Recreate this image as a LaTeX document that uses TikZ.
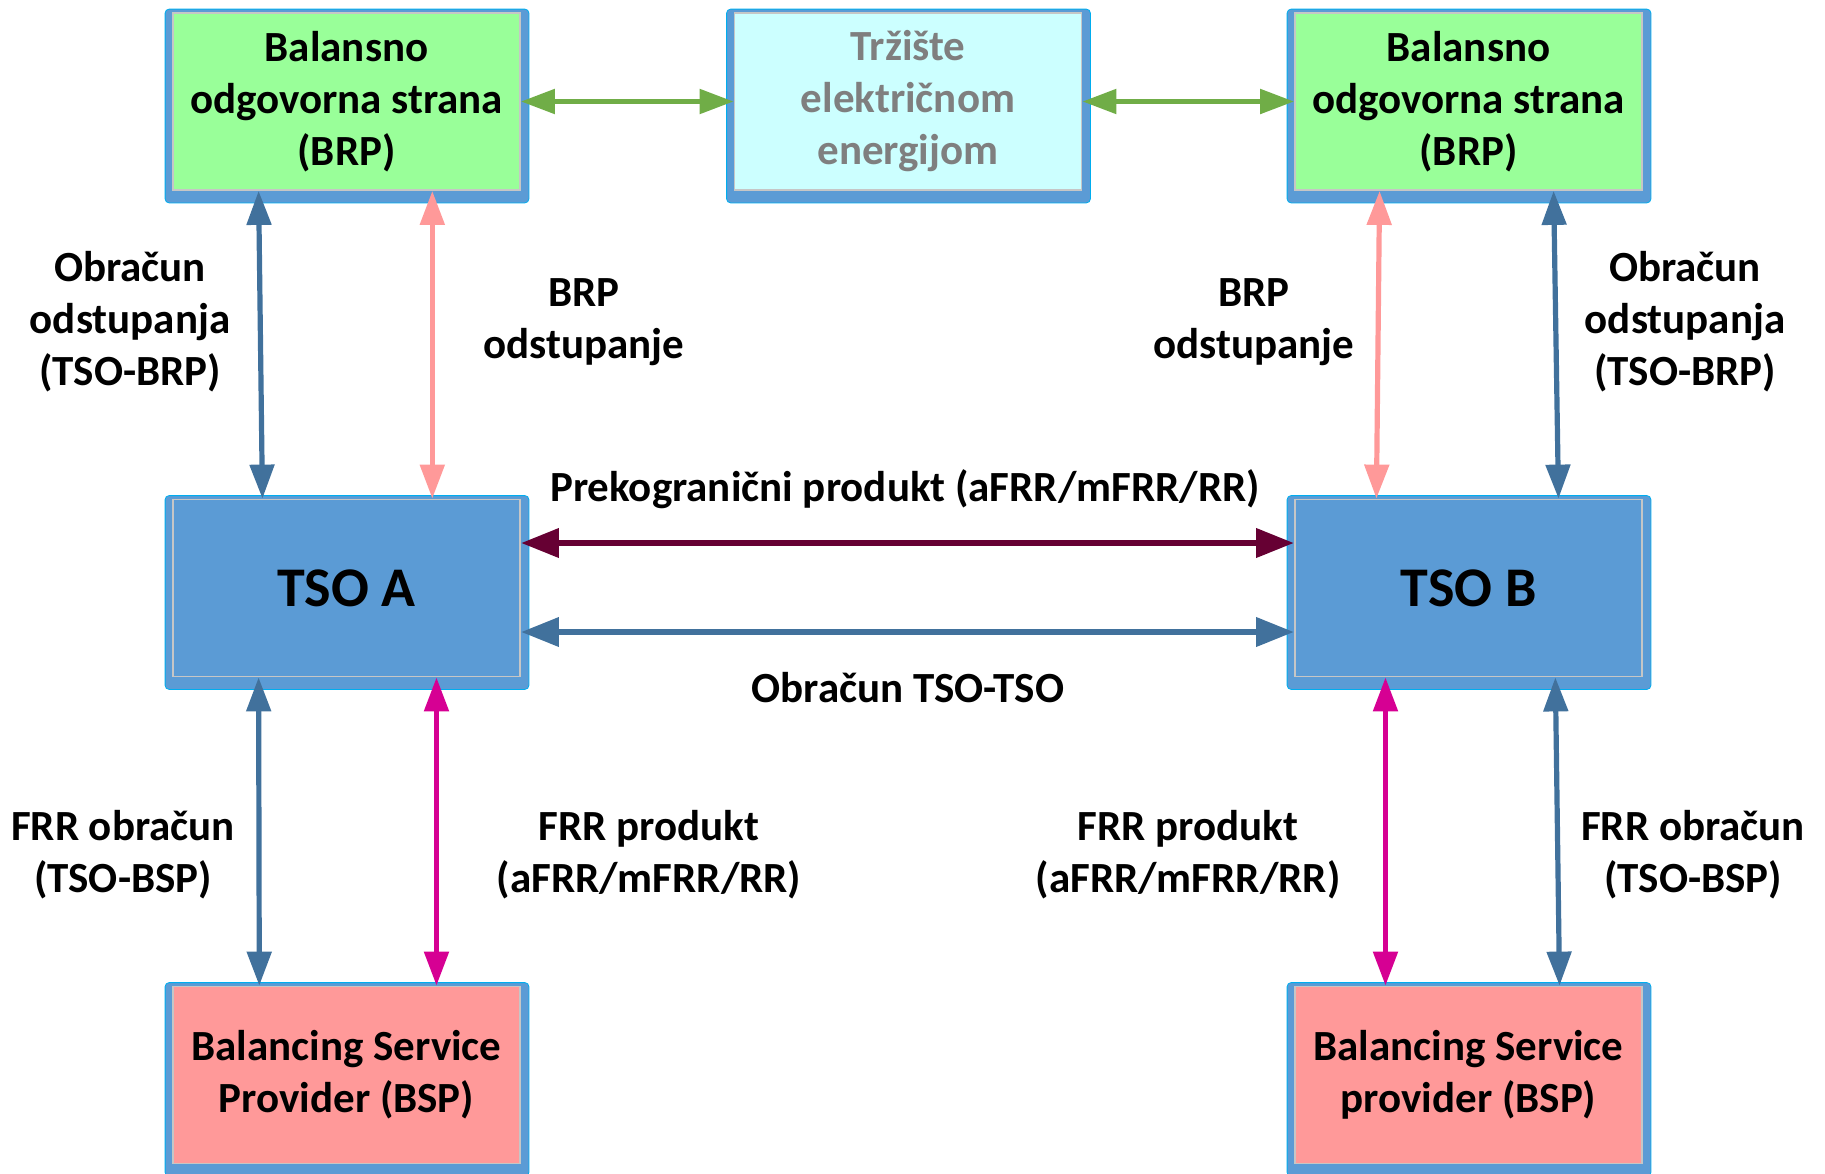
\documentclass[tikz,border=0pt]{standalone}
\usepackage{fontspec}
\setmainfont{Carlito}
\usepackage{xcolor}
\usetikzlibrary{arrows.meta, calc, backgrounds}

\definecolor{brpgreen}{HTML}{99FF99}
\definecolor{marketcyan}{HTML}{CCFFFF}
\definecolor{markettext}{HTML}{7F7F7F}
\definecolor{tsoblue}{HTML}{5B9BD5}
\definecolor{bspred}{HTML}{FF9999}
\definecolor{linkblue}{HTML}{41719C}
\definecolor{linkpink}{HTML}{FF9999}
\definecolor{linkmagenta}{HTML}{D60093}
\definecolor{linkmaroon}{HTML}{660033}
\definecolor{linkgreen}{HTML}{70AD47}

\begin{document}
\begin{tikzpicture}[x=0.5pt, y=-0.5pt, font=\bfseries\fontsize{21.5}{26}\selectfont]
\tikzstyle{box}=[draw=gray!45, line width=0.9pt, minimum width=173.5pt, minimum height=88.5pt, inner sep=0pt, align=center]
\tikzstyle{boxframe}=[fill=tsoblue, draw=cyan, line width=0.4pt, rounded corners=2pt]
\tikzstyle{biarrow}=[line width=2.6pt, {Triangle[length=17pt, width=12pt]}-{Triangle[length=17pt, width=12pt]}]
\tikzstyle{widearrow}=[line width=3.4pt, {Triangle[length=19pt, width=14pt]}-{Triangle[length=19pt, width=14pt]}]
\tikzstyle{linktext}=[align=center, inner sep=0pt]
\useasboundingbox (0,0) rectangle (1825,1173);

\node[box, fill=brpgreen] (brpA) at (346.5,101.5) {Balansno\\odgovorna strana\\(BRP)};
\node[box, fill=marketcyan, text=markettext] (market) at (908,101.5) {Tržište\\električnom\\energijom};
\node[box, fill=brpgreen] (brpB) at (1468.5,101.5) {Balansno\\odgovorna strana\\(BRP)};
\node[box, fill=tsoblue, font=\bfseries\fontsize{28}{34}\selectfont] (tsoA) at (346.5,588) {TSO A};
\node[box, fill=tsoblue, font=\bfseries\fontsize{28}{34}\selectfont] (tsoB) at (1468.5,588) {TSO B};
\node[box, fill=bspred] (bspA) at (346.5,1075) {Balancing Service\\Provider (BSP)};
\node[box, fill=bspred] (bspB) at (1468.5,1075) {Balancing Service\\provider (BSP)};

\begin{scope}[on background layer]
\foreach \n in {brpA, market, brpB, tsoA, tsoB, bspA, bspB}
  \draw[boxframe] ($(\n.north west)+(-7,-3)$) rectangle ($(\n.south east)+(8,12)$);
\end{scope}

\node[linktext] (settleA) at (130,322) {Obračun\\odstupanja\\(TSO-BRP)};
\node[linktext] (devA) at (584,322) {BRP\\odstupanje};
\node[linktext] (devB) at (1254,322) {BRP\\odstupanje};
\node[linktext] (settleB) at (1685,322) {Obračun\\odstupanja\\(TSO-BRP)};
\node[linktext] (xborder) at (905,489) {Prekogranični produkt (aFRR/mFRR/RR)};
\node[linktext] (tsotso) at (908,688) {Obračun TSO-TSO};
\node[linktext] (frrsetA) at (123,855) {FRR obračun\\(TSO-BSP)};
\node[linktext] (frrprodA) at (649,855) {FRR produkt\\(aFRR/mFRR/RR)};
\node[linktext] (frrprodB) at (1188,855) {FRR produkt\\(aFRR/mFRR/RR)};
\node[linktext] (frrsetB) at (1693,855) {FRR obračun\\(TSO-BSP)};

% market links
\path (brpA) edge[biarrow, linkgreen] (market)
      (market) edge[biarrow, linkgreen] (brpB);

% TSO - TSO
\draw[widearrow, linkmaroon] ([yshift=22.5pt]tsoA.east) -- ([yshift=22.5pt]tsoB.west);
\draw[widearrow, linkblue] ([yshift=-22pt]tsoA.east) -- ([yshift=-22pt]tsoB.west);

% BRP - TSO
\draw[biarrow, linkblue] ($(brpA.south west)!0.248!(brpA.south east)$) -- ($(tsoA.north west)!0.259!(tsoA.north east)$);
\draw[biarrow, linkpink] ($(brpA.south west)!0.746!(brpA.south east)$) -- ($(tsoA.north west)!0.746!(tsoA.north east)$);
\draw[biarrow, linkpink] ($(brpB.south west)!0.245!(brpB.south east)$) -- ($(tsoB.north west)!0.236!(tsoB.north east)$);
\draw[biarrow, linkblue] ($(brpB.south west)!0.744!(brpB.south east)$) -- ($(tsoB.north west)!0.758!(tsoB.north east)$);

% TSO - BSP
\draw[biarrow, linkblue] ($(tsoA.south west)!0.248!(tsoA.south east)$) -- ($(bspA.north west)!0.25!(bspA.north east)$);
\draw[biarrow, linkmagenta] ($(tsoA.south west)!0.758!(tsoA.south east)$) -- ($(bspA.north west)!0.758!(bspA.north east)$);
\draw[biarrow, linkmagenta] ($(tsoB.south west)!0.262!(tsoB.south east)$) -- ($(bspB.north west)!0.262!(bspB.north east)$);
\draw[biarrow, linkblue] ($(tsoB.south west)!0.749!(tsoB.south east)$) -- ($(bspB.north west)!0.761!(bspB.north east)$);

\end{tikzpicture}
\end{document}
